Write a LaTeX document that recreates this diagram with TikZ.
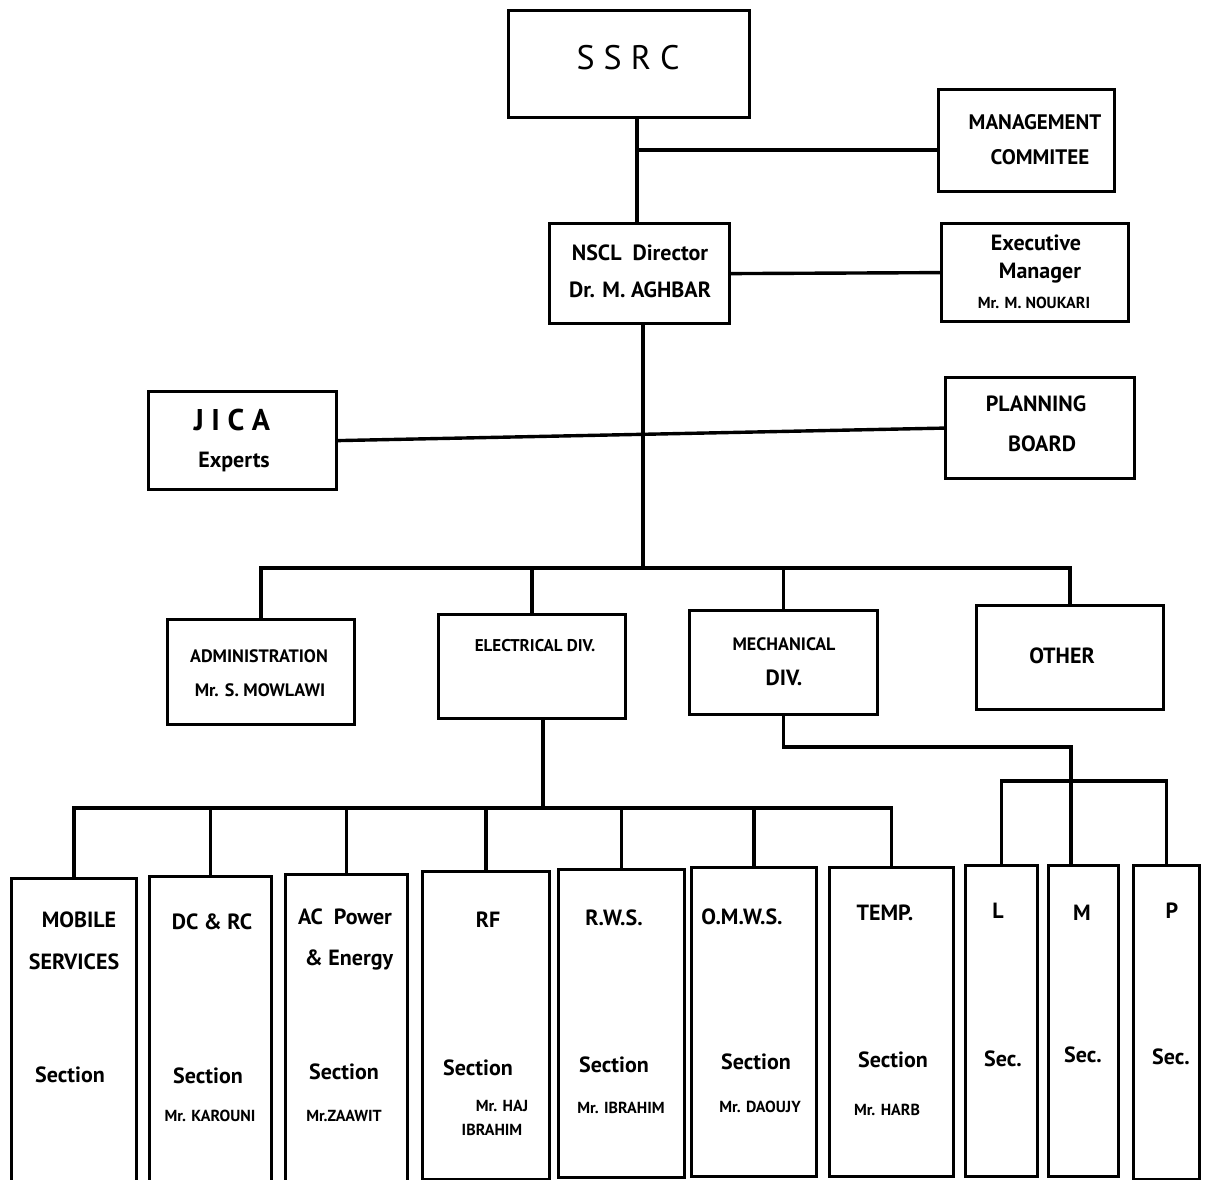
\documentclass[tikz,border=0pt]{standalone}
\usepackage{fontspec}
\setmainfont{PT Sans}
\begin{document}
\begin{tikzpicture}[x=1pt,y=-1pt,
    box/.style={draw,line width=3.2pt,inner sep=0pt,anchor=north west},
    conn/.style={line width=3.4pt},
    bigtxt/.style={font=\fontsize{34}{38}\selectfont,inner sep=0pt},
    txt/.style={font=\fontsize{22}{26}\selectfont\bfseries,inner sep=0pt},
    person/.style={font=\fontsize{16}{19}\selectfont\bfseries,inner sep=0pt}]
\useasboundingbox (0,0) rectangle (1208,1180);

\node[box,minimum width=241pt,minimum height=107pt] (ssrc) at (507,9) {};
\node[box,minimum width=176pt,minimum height=102pt] (mgmt) at (937,88) {};
\node[box,minimum width=180pt,minimum height=100pt] (nscl) at (548,222) {};
\node[box,minimum width=187pt,minimum height=98pt] (exec) at (940,222) {};
\node[box,minimum width=188pt,minimum height=98pt] (jica) at (147,390) {};
\node[box,minimum width=189pt,minimum height=101pt] (plan) at (944,376) {};

\node[box,minimum width=187pt,minimum height=105pt] (admin) at (166,618) {};
\node[box,minimum width=187pt,minimum height=104pt] (elec) at (437,613) {};
\node[box,minimum width=188pt,minimum height=104pt] (mech) at (688,609) {};
\node[box,minimum width=187pt,minimum height=104pt] (other) at (975,604) {};

\node[box,minimum width=125pt,minimum height=313pt] (mob) at (10,877) {};
\node[box,minimum width=122pt,minimum height=315pt] (dcrc) at (148,875) {};
\node[box,minimum width=122pt,minimum height=317pt] (acp) at (284,873) {};
\node[box,minimum width=127pt,minimum height=308pt] (rf) at (421,870) {};
\node[box,minimum width=126pt,minimum height=308pt] (rws) at (557,868) {};
\node[box,minimum width=125pt,minimum height=309pt] (omws) at (690,866) {};
\node[box,minimum width=124pt,minimum height=309pt] (temp) at (828,866) {};
\node[box,minimum width=72pt,minimum height=311pt] (secl) at (964,864) {};
\node[box,minimum width=70pt,minimum height=311pt] (secm) at (1047,864) {};
\node[box,minimum width=66pt,minimum height=314pt] (secp) at (1132,864) {};

% texts
\node[bigtxt] (ssrct) at (628,58) {S S R C};
\node[txt,font=\fontsize{21}{25}\selectfont\bfseries] (mgmt1) at (1035,122) {MANAGEMENT};
\node[txt,font=\fontsize{21}{25}\selectfont\bfseries] (mgmt2) at (1040,157) {COMMITEE};
\node[txt] (nscl1) at (640,253) {NSCL\enspace Director};
\node[txt] (nscl2) at (640,290) {Dr. M. AGHBAR};
\node[txt] (exec1) at (1036,243) {Executive};
\node[txt] (exec2) at (1040,273) {Manager};
\node[person] (exec3) at (1034,303) {Mr. M. NOUKARI};
\node[bigtxt,font=\fontsize{30}{34}\selectfont\bfseries] (jica1) at (232,420) {J I C A};
\node[txt] (jica2) at (234,462) {Experts};
\node[txt] (plan1) at (1036,404) {PLANNING};
\node[txt] (plan2) at (1042,444) {BOARD};

\node[txt,font=\fontsize{18}{22}\selectfont\bfseries] (admin1) at (259,656) {ADMINISTRATION};
\node[person,font=\fontsize{18}{21}\selectfont\bfseries] (admin2) at (260,690) {Mr. S. MOWLAWI};
\node[txt,font=\fontsize{17}{21}\selectfont\bfseries] (elec1) at (535,646) {ELECTRICAL DIV.};
\node[txt,font=\fontsize{18}{22}\selectfont\bfseries] (mech1) at (784,644) {MECHANICAL};
\node[txt] (mech2) at (784,678) {DIV.};
\node[txt] (other1) at (1062,656) {OTHER};

\node[txt] (mob1) at (79,920) {MOBILE};
\node[txt] (mob2) at (74,962) {SERVICES};
\node[txt] (mob3) at (70,1075) {Section};
\node[txt] (dcrc1) at (212,922) {DC \& RC};
\node[txt] (dcrc2) at (208,1076) {Section};
\node[person] (dcrc3) at (210,1116) {Mr. KAROUNI};
\node[txt] (acp1) at (345,917) {AC\enspace Power};
\node[txt] (acp2) at (349,960) {\& Energy};
\node[txt] (acp3) at (344,1072) {Section};
\node[person] (acp4) at (344,1116) {Mr.ZAAWIT};
\node[txt] (rf1) at (488,920) {RF};
\node[txt] (rf2) at (478,1068) {Section};
\node[person] (rf3) at (502,1106) {Mr. HAJ};
\node[person] (rf4) at (492,1130) {IBRAHIM};
\node[txt] (rws1) at (614,918) {R.W.S.};
\node[txt] (rws2) at (614,1065) {Section};
\node[person] (rws3) at (621,1108) {Mr. IBRAHIM};
\node[txt] (omws1) at (742,917) {O.M.W.S.};
\node[txt] (omws2) at (756,1062) {Section};
\node[person] (omws3) at (760,1107) {Mr. DAOUJY};
\node[txt] (temp1) at (885,913) {TEMP.};
\node[txt] (temp2) at (893,1060) {Section};
\node[person] (temp3) at (887,1110) {Mr. HARB};
\node[txt] (secl1) at (998,911) {L};
\node[txt] (secl2) at (1003,1059) {Sec.};
\node[txt] (secm1) at (1082,913) {M};
\node[txt] (secm2) at (1083,1055) {Sec.};
\node[txt] (secp1) at (1172,911) {P};
\node[txt] (secp2) at (1171,1057) {Sec.};

% connectors
\coordinate (mj) at (637,150);
\draw[conn] (ssrc.south -| mj) -- (nscl.north -| mj);
\draw[conn] (mj) -- (mj -| mgmt.west);
\draw[conn] (nscl.east) -- (exec.west);
\coordinate (tbus) at (643,568);
\draw[conn] (nscl.south -| tbus) -- (tbus);
\draw[conn] (jica.east) -- (plan.west);
\draw[conn] (admin.north) |- (tbus) -| (other.north);
\draw[conn] (tbus) -| (elec.north);
\draw[conn] (tbus) -| (mech.north);

\coordinate (ebus) at (543,808);
\draw[conn] (elec.south -| ebus) -- (ebus);
\foreach \s in {mob,dcrc,acp,rf,rws,omws,temp}
  \draw[conn] (ebus) -| (\s.north);

\coordinate (mk) at (1071,747);
\coordinate (mb) at (1071,781);
\draw[conn] (mech.south) |- (mk) -- (mk |- secm.north);
\draw[conn] (secl.north) |- (mb) -| (secp.north);
\end{tikzpicture}
\end{document}
